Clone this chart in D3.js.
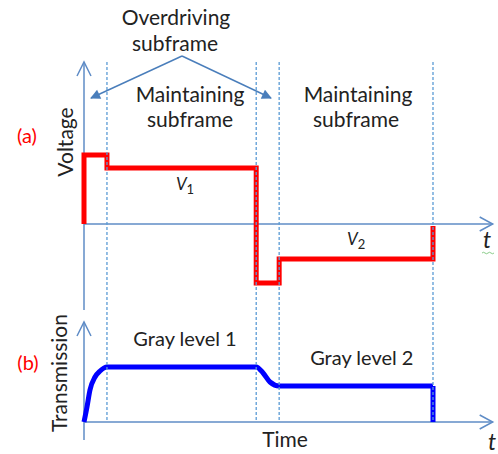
<!DOCTYPE html>
<html><head><meta charset="utf-8">
<script src="https://cdn.jsdelivr.net/npm/d3@7"></script>
<style>
body{margin:0;background:#fff}
svg{display:block}
text{font-family:Lato,"Open Sans",sans-serif;fill:#222}
</style>
</head><body><svg id="chart" width="498" height="454"></svg>
<script>
// Subframe boundaries along the time axis (arbitrary time units)
const frameBounds = [1, 7.5, 8.5, 15.2];
const frameEnd = 15.2;
const timeEnd = 17.8;

// (a) drive voltage: overdrive pulse, hold V1, negative overdrive, hold V2
const voltageTimes  = [0, 0, 1, 1, 7.5, 7.5, 8.5, 8.5, 15.2, 15.2];
const voltageValues = [0, 6.9, 6.9, 5.6, 5.6, -5.9, -5.9, -3.5, -3.5, -0.2];

// (b) optical transmission response
const transTimes  = [0, 0.13, 0.26, 0.48, 0.7, 1, 7.5, 7.8, 8.1, 8.5, 15.2];
const transValues = [0, 0.15, 0.32, 0.45, 0.51, 0.55, 0.55, 0.49, 0.40, 0.36, 0.36];
const dropTimes  = [15.2, 15.2];
const dropValues = [0.36, 0];

// Labels
const levelLabels = ["V", "V"];
const levelSubs = ["1", "2"];
const levelAt = [[4.4, 5.6], [11.85, -3.5]];
const levelOffset = [22, -14];
const grayLabels = ["Gray level 1", "Gray level 2"];
const grayAt = [[4.4, 0.55], [12.1, 0.36]];

const svg = d3.select("#chart");
const x  = d3.scaleLinear().domain([0, frameEnd]).range([84, 433]);
const yV = d3.scaleLinear().domain([0, 16.2]).range([224, 62]);
const yT = d3.scaleLinear().domain([0, 1]).range([422, 322]);

const axisColor = "#5f8cc6";
const dashColor = "#5b9bd5";

// marker for annotation arrows
svg.append("defs").append("marker")
  .attr("id", "tri").attr("viewBox", "0 0 10 10").attr("refX", 9).attr("refY", 5)
  .attr("markerWidth", 14).attr("markerHeight", 10).attr("markerUnits", "userSpaceOnUse")
  .attr("orient", "auto")
  .append("path").attr("d", "M0,0 L10,5 L0,10 Z").attr("fill", "#4a7ebb");

const axes = svg.append("g").attr("fill", "none").attr("stroke", axisColor).attr("stroke-width", 1.5);

function vAxis(x0, yTop, yBot) {
  axes.append("line").attr("x1", x0).attr("x2", x0).attr("y1", yBot).attr("y2", yTop);
  axes.append("path").attr("d", `M${x0 - 7},${yTop + 14}L${x0},${yTop}L${x0 + 7},${yTop + 14}`);
}
function hAxis(y0, xL, xR) {
  axes.append("line").attr("x1", xL).attr("x2", xR).attr("y1", y0).attr("y2", y0);
  axes.append("path").attr("d", `M${xR - 13},${y0 - 7}L${xR},${y0}L${xR - 13},${y0 + 7}`);
}
vAxis(x(0), yV(16.2), yV(-8.6));
hAxis(yV(0), x(0), x(timeEnd));
vAxis(x(0), yT(1), yT(-0.18));
hAxis(yT(0), x(0), x(timeEnd));

// (a) voltage waveform
const lineV = d3.line().x(i => x(voltageTimes[i])).y(i => yV(voltageValues[i]));
svg.append("path").attr("d", lineV(d3.range(voltageTimes.length)))
  .attr("fill", "none").attr("stroke", "#ff0000").attr("stroke-width", 5)
  .attr("stroke-linejoin", "miter");

// (b) transmission response
const lineT = d3.line().curve(d3.curveMonotoneX)
  .x(i => x(transTimes[i])).y(i => yT(transValues[i]));
svg.append("path").attr("d", lineT(d3.range(transTimes.length)))
  .attr("fill", "none").attr("stroke", "#0000ff").attr("stroke-width", 5);
const lineD = d3.line().x(i => x(dropTimes[i])).y(i => yT(dropValues[i]));
svg.append("path").attr("d", lineD(d3.range(dropTimes.length)))
  .attr("fill", "none").attr("stroke", "#0000ff").attr("stroke-width", 5);

// subframe boundary markers
svg.append("g").selectAll("line").data(frameBounds).join("line")
  .attr("x1", d => x(d)).attr("x2", d => x(d))
  .attr("y1", 62).attr("y2", yT(0))
  .attr("stroke", dashColor).attr("stroke-width", 1.3).attr("stroke-dasharray", "3,2");

// annotation arrows from the overdriving label
const apex = [182, 56];
[[x(0) + 7, 98], [271, 98]].forEach(p => {
  svg.append("line").attr("x1", apex[0]).attr("y1", apex[1]).attr("x2", p[0]).attr("y2", p[1])
    .attr("stroke", "#4a7ebb").attr("stroke-width", 1.4).attr("marker-end", "url(#tri)");
});

// text
function label(txt, tx, ty, size, opts = {}) {
  const t = svg.append("text").attr("x", tx).attr("y", ty).attr("font-size", size)
    .attr("text-anchor", opts.anchor || "middle").text(txt);
  if (opts.fill) t.style("fill", opts.fill);
  if (opts.italic) t.attr("font-style", "italic");
  if (opts.rotate) t.attr("x", 0).attr("y", 0).attr("transform", `translate(${tx},${ty}) rotate(-90)`);
  return t;
}
label("Overdriving", 176, 25, 21);
label("subframe", 175, 51, 21);
label("Maintaining", 190, 102, 21);
label("subframe", 190, 127, 21);
label("Maintaining", 358, 102, 21);
label("subframe", 356, 127, 21);

label("(a)", 27, 143, 20, {fill: "#ff0000"});
label("(b)", 28, 370, 20, {fill: "#ff0000"});
label("Voltage", 73, 142, 21, {rotate: true});
label("Transmission", 67, 373, 21, {rotate: true});

levelLabels.forEach((v, i) => {
  const t = svg.append("text").attr("x", x(levelAt[i][0])).attr("y", yV(levelAt[i][1]) + levelOffset[i])
    .attr("font-size", 17).attr("text-anchor", "middle");
  t.append("tspan").attr("font-style", "italic").text(v);
  t.append("tspan").attr("font-size", 13).attr("dy", 4).text(levelSubs[i]);
});
grayLabels.forEach((g, i) => label(g, x(grayAt[i][0]), yT(grayAt[i][1]) - 21, 20));

label("Time", 285, 447, 21);
label("t", 487, 248, 23, {italic: true});
label("t", 492, 450, 23, {italic: true});
// spell-check squiggle under the first t
svg.append("path").attr("d", "M482,253 q1.5,-1.5 3,0 t3,0 t3,0 t3,0")
  .attr("fill", "none").attr("stroke", "#6bbf6b").attr("stroke-width", 0.8);
</script>
</body></html>
